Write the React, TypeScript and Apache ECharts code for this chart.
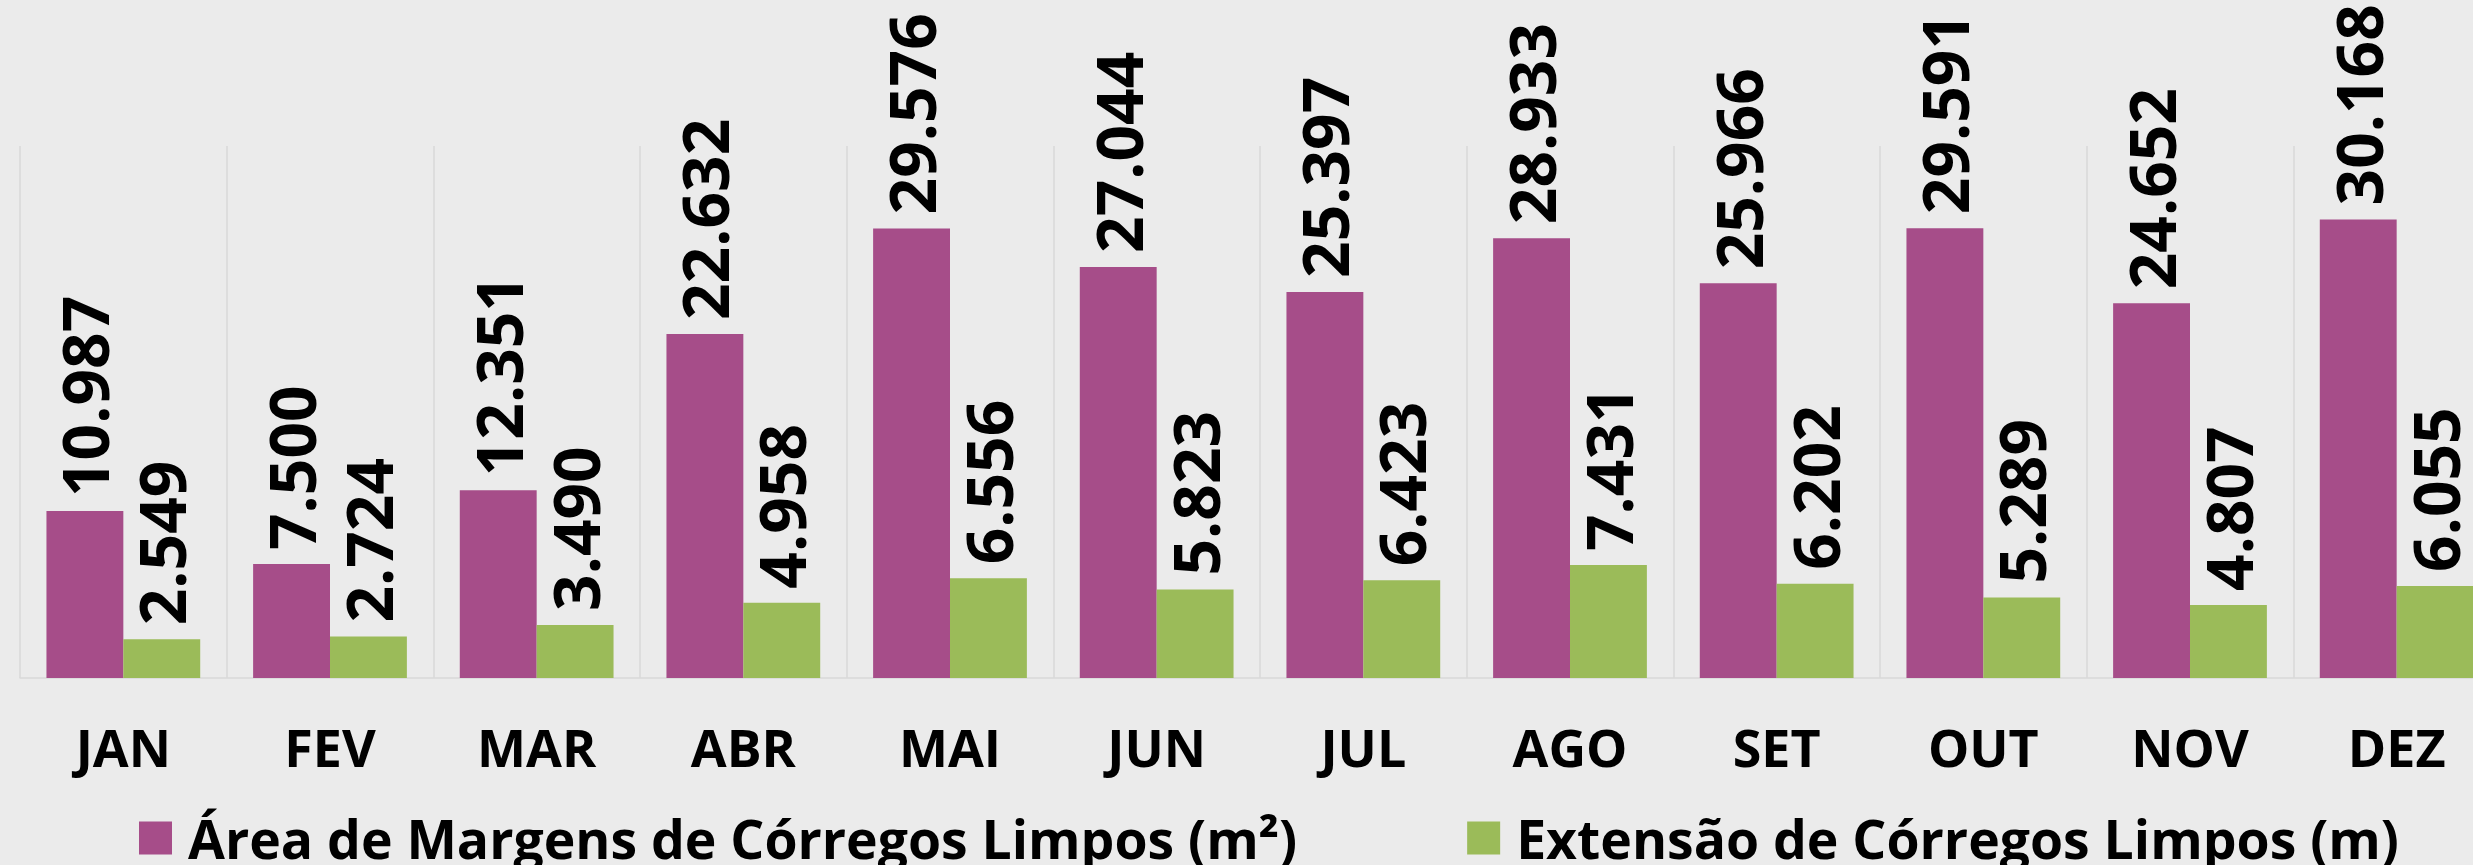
import React, { useEffect, useRef } from "react";
import * as echarts from "echarts";

const months = ["JAN", "FEV", "MAR", "ABR", "MAI", "JUN", "JUL", "AGO", "SET", "OUT", "NOV", "DEZ"];
const areaValues = [10987, 7500, 12351, 22632, 29576, 27044, 25397, 28933, 25966, 29591, 24652, 30168];
const extValues = [2549, 2724, 3490, 4958, 6556, 5823, 6423, 7431, 6202, 5289, 4807, 6055];
const seriesNames = ["Área de Margens de Córregos Limpos (m²)", "Extensão de Córregos Limpos (m)"];
const colors = ["#a64d89", "#9bbb59"];

const fmt = (v: number) => Math.round(v).toString().replace(/\B(?=(\d{3})+(?!\d))/g, ".");

const FONT = "'Open Sans', 'DejaVu Sans', sans-serif";

export default function App() {
  const ref = useRef<HTMLDivElement>(null);
  useEffect(() => {
    document.body.style.margin = "0";
    document.body.style.background = "#ebebeb";
    const chart = echarts.init(ref.current!, null, { renderer: "svg" });
    const labelOpt = {
      show: true,
      position: "top" as const,
      rotate: 90,
      align: "left" as const,
      verticalAlign: "middle" as const,
      distance: 14,
      fontFamily: FONT,
      fontWeight: "bold" as const,
      fontSize: 64,
      color: "#000",
      formatter: (p: any) => fmt(p.value),
    };
    chart.setOption({
      animation: false,
      backgroundColor: "#ebebeb",
      grid: {
        left: 20,
        top: 146,
        width: 2480,
        height: 532,
        containLabel: false,
        outerBoundsMode: "none",
      },
      legend: {
        left: 139,
        top: 811,
        padding: 0,
        itemWidth: 33,
        itemHeight: 33,
        itemGap: 170,
        icon: "rect",
        textStyle: {
          fontFamily: FONT,
          fontWeight: "bold",
          fontSize: 53.5,
          color: "#000",
          padding: [0, 0, 0, 11],
        },
        data: seriesNames,
      },
      xAxis: {
        type: "category",
        data: months,
        axisLine: { show: true, lineStyle: { color: "#d9d9d9", width: 1.5 } },
        axisTick: { show: false },
        splitLine: { show: true, interval: 0, lineStyle: { color: "#d9d9d9", width: 1.5 } },
        axisLabel: {
          interval: 0,
          margin: 42,
          fontFamily: FONT,
          fontWeight: "bold",
          fontSize: 52,
          color: "#000",
        },
      },
      yAxis: {
        type: "value",
        min: 0,
        max: 35000,
        show: false,
        splitLine: { show: false },
      },
      series: [
        {
          name: seriesNames[0],
          type: "bar",
          data: areaValues,
          itemStyle: { color: colors[0] },
          barGap: "0%",
          barCategoryGap: "25.6%",
          label: labelOpt,
        },
        {
          name: seriesNames[1],
          type: "bar",
          data: extValues,
          itemStyle: { color: colors[1] },
          barGap: "0%",
          barCategoryGap: "25.6%",
          label: labelOpt,
        },
      ],
    });
    return () => chart.dispose();
  }, []);
  return <div ref={ref} style={{ width: 2473, height: 865, overflow: "hidden" }} />;
}
